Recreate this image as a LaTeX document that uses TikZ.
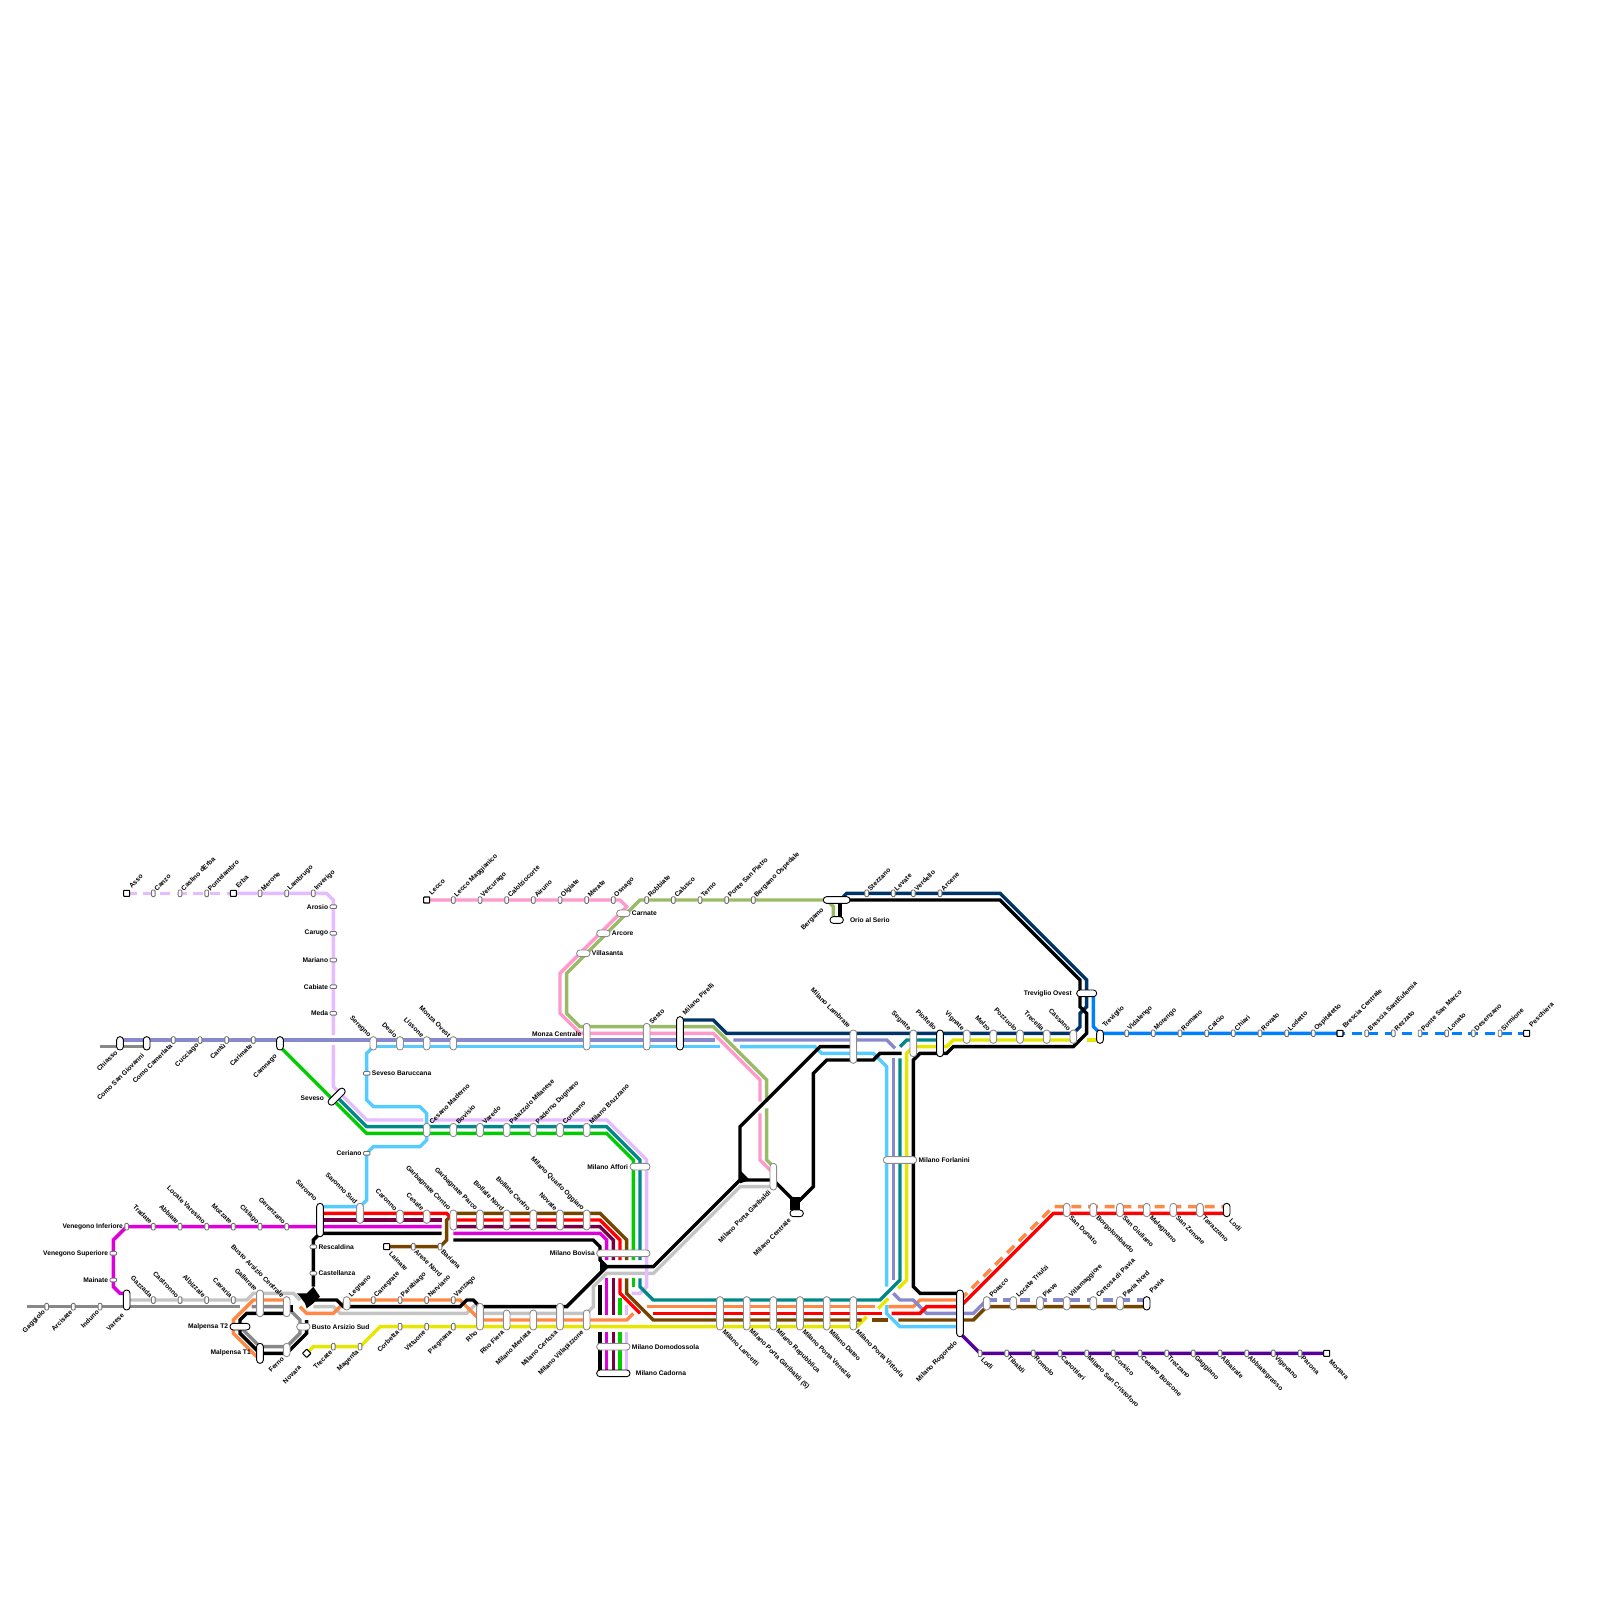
\documentclass[tikz,border=0pt]{standalone}
\usepackage{fontspec}
\setmainfont{Liberation Sans}
\usepackage{tikz}
\usepackage{xcolor}
\definecolor{cPink}{HTML}{FF99CC}
\definecolor{cOlive}{HTML}{99BB66}
\definecolor{cNavy}{HTML}{003366}
\definecolor{cViolet}{HTML}{8888CC}
\definecolor{cCyan}{HTML}{55CCFF}
\definecolor{cGray}{HTML}{888888}
\definecolor{cSilver}{HTML}{C4C4C4}
\definecolor{cGreen}{HTML}{00CC00}
\definecolor{cTeal}{HTML}{008888}
\definecolor{cLilac}{HTML}{E6BBFF}
\definecolor{cMagenta}{HTML}{DD00DD}
\definecolor{cMaroon}{HTML}{770044}
\definecolor{cOrange}{HTML}{FF8844}
\definecolor{cBrown}{HTML}{774400}
\definecolor{cYellow}{HTML}{E6E600}
\definecolor{cBlue}{HTML}{0080FF}
\definecolor{cDeep}{HTML}{550099}
\pgfdeclarelayer{tracks}
\pgfsetlayers{tracks,main}
\tikzset{
  stn/.style={draw=black!55,line width=.9pt,fill=white,rounded corners=1pt,inner sep=0pt,minimum width=3.6pt,minimum height=6.6pt},
  stnh/.style={stn,minimum width=6.6pt,minimum height=3.6pt},
  pill/.style={draw=black!45,line width=.9pt,fill=white,rounded corners=3.2pt,inner sep=0pt,minimum width=6.67pt,minimum height=#1*6.6667pt},
  hpill/.style={draw=black!45,line width=.9pt,fill=white,rounded corners=3.2pt,inner sep=0pt,minimum height=6.67pt,minimum width=#1*6.6667pt},
  term/.style={draw=black,line width=1.1pt,fill=white,rounded corners=.6pt,inner sep=0pt,minimum size=6pt},
  lbl/.style={font=\bfseries\fontsize{6.67}{7}\selectfont,inner sep=0pt,outer sep=0pt,text=black},
  lblur/.style={lbl,rotate=45,anchor=west},
  lblul/.style={lbl,rotate=-45,anchor=east},
  lbldl/.style={lbl,rotate=45,anchor=east,xshift=-.7pt,yshift=-.7pt},
  lbldr/.style={lbl,rotate=-45,anchor=west},
  lbll/.style={lbl,anchor=east,xshift=-1.5pt},
  lblr/.style={lbl,anchor=west,xshift=1.5pt},
  ln/.style={line width=3.4pt},
  lnd/.style={line width=3.4pt,dash pattern=on 10pt off 6.67pt}
}
\begin{document}
\begin{tikzpicture}[x=6.6667pt,y=-6.6667pt]
\useasboundingbox (0,0) rectangle (240,240);
% Varese and Gallarate
\coordinate (grayfree) at (4,196);
\coordinate (chiassofree) at (15,157);
\node[stn,label={[lbldl]south west:Gaggiolo}] (gaggiolo) at (7,196) {};
\node[stn,label={[lbldl]south west:Arcisate}] (arcisate) at (11,196) {};
\node[stn,label={[lbldl]south west:Induno}] (induno) at (15,196) {};
\node[pill=3,draw=black,label={[lbldl,xshift=-2pt,yshift=-2pt]south west:Varese}] (varese) at (19,195) {};
\node[stn,label={[lblul]north west:Gazzada}] (gazzada) at (23,195) {};
\node[stn,label={[lblul]north west:Castronno}] (castronno) at (27,195) {};
\node[stn,label={[lblul]north west:Albizzate}] (albizzate) at (31,195) {};
\node[stn,label={[lblul]north west:Cavaria}] (cavaria) at (35,195) {};
\node[pill=4,label={[lblul]north west:Gallarate}] (gallarate) at (39,195.5) {};
\node[pill=3,label={[lblul]north west:Busto Arsizio Centrale}] (bustoc) at (43,196) {};
\node[hpill=3,draw=black,label={[lbll]west:Malpensa T2}] (maltwo) at (36,199) {};
\node[pill=3,draw=black,label={[lbll,xshift=-4pt,yshift=.5pt]west:Malpensa T1}] (malone) at (39,203) {};
\node[pill=2,label={[lbldl]south west:Ferno}] (ferno) at (43,202.5) {};
\node[hpill=2,label={[lblr]east:Busto Arsizio Sud}] (bustos) at (45.5,199) {};
\node[term,rotate=45] (novara) at (46,203) {};
\node[lbl,rotate=45,anchor=east] (novaralbl) at (45,205) {Novara};
\node[stn,label={[lbldl]south west:Trecate}] (trecate) at (50,202) {};
\node[stn,label={[lbldl]south west:Magenta}] (magenta) at (54,202) {};
\node[stn,label={[lbldl]south west:Corbetta}] (corbetta) at (60,199) {};
\node[stn,label={[lbldl]south west:Vittuone}] (vittuone) at (64,199) {};
\node[stn,label={[lbldl]south west:Pregnana}] (pregnana) at (68,199) {};
% Saronno branch
\node[stn,label={[lbll]west:Venegono Inferiore}] (veninf) at (19,184) {};
\node[stnh,label={[lbll]west:Venegono Superiore}] (vensup) at (17,188) {};
\node[stnh,label={[lbll]west:Mainate}] (mainate) at (17,192) {};
\node[stn,label={[lblul]north west:Tradate}] (tradate) at (23,184) {};
\node[stn,label={[lblul]north west:Abbiate}] (abbiate) at (27,184) {};
\node[stn,label={[lblul]north west:Locate Varesino}] (locatev) at (31,184) {};
\node[stn,label={[lblul]north west:Mozzate}] (mozzate) at (35,184) {};
\node[stn,label={[lblul]north west:Cislago}] (cislago) at (39,184) {};
\node[stn,label={[lblul]north west:Gerenzano}] (gerenzano) at (43,184) {};
\node[pill=5,draw=black,label={[lblul,xshift=-2pt,yshift=2pt]north west:Saronno}] (saronno) at (48,183) {};
\node[pill=3,label={[lblul]north west:Saronno Sud}] (saronnos) at (54,182) {};
\node[pill=2,label={[lblul]north west:Caronno}] (caronno) at (60,182.5) {};
\node[pill=2,label={[lblul]north west:Cesate}] (cesate) at (64,182.5) {};
\node[pill=3,label={[lblul]north west:Garbagnate Centro}] (garbc) at (68,183) {};
\node[pill=3,label={[lblul]north west:Garbagnate Parco}] (garbp) at (72,183) {};
\node[pill=3,label={[lblul]north west:Bollate Nord}] (bollaten) at (76,183) {};
\node[pill=3,label={[lblul]north west:Bollate Centro}] (bollatec) at (80,183) {};
\node[pill=3,label={[lblul]north west:Novate}] (novate) at (84,183) {};
\node[pill=3,label={[lblul]north west:Milano Quarto Oggiaro}] (quarto) at (88,183) {};
\node[stnh,label={[lblr]east:Rescaldina}] (rescaldina) at (47,187) {};
\node[stnh,label={[lblr]east:Castellanza}] (castellanza) at (47,191) {};
\node[term,label={[lbldr,xshift=2pt,yshift=-2pt]south east:Lainate}] (lainate) at (58,187) {};
\node[stn,label={[lbldr]south east:Arese Nord}] (arese) at (62,187) {};
\node[stn,label={[lbldr]south east:Bariana}] (bariana) at (66,187) {};
\node[pill=2,label={[lblur]north east:Legnano}] (legnano) at (52,195.5) {};
\node[stn,label={[lblur]north east:Canegrate}] (canegrate) at (56,195) {};
\node[stn,label={[lblur]north east:Parabiago}] (parabiago) at (60,195) {};
\node[stn,label={[lblur]north east:Nerviano}] (nerviano) at (64,195) {};
\node[stn,label={[lblur]north east:Vanzago}] (vanzago) at (68,195) {};
\node[pill=4,label={[lbldl]south west:Rho}] (rho) at (72,197.5) {};
\node[pill=3,label={[lbldl]south west:Rho Fiera}] (rhofiera) at (76,198) {};
\node[pill=3,label={[lbldl]south west:Milano Merlata}] (merlata) at (80,198) {};
\node[pill=4,label={[lbldl]south west:Milano Certosa}] (certosa) at (84,197.5) {};
\node[pill=3,label={[lbldl]south west:Milano Villapizzone}] (villapizzone) at (88,198) {};
\node[hpill=8,label={[lbll]west:Milano Bovisa}] (bovisa) at (93.5,188) {};
\node[hpill=3,label={[lbll]west:Milano Affori}] (affori) at (96,175) {};
\node[hpill=5,label={[lblr]east:Milano Domodossola}] (domodossola) at (92,202) {};
\node[hpill=5,draw=black,label={[lblr,xshift=4pt]east:Milano Cadorna}] (cadorna) at (92,206) {};
% Asso and Como
\node[term,label={[lblur,xshift=2pt,yshift=2pt]north east:Asso}] (asso) at (19,134) {};
\node[stn,label={[lblur]north east:Canzo}] (canzo) at (23,134) {};
\node[stn,label={[lblur]north east:Caslino dErba}] (caslino) at (27,134) {};
\node[stn,label={[lblur]north east:Pontelambro}] (pontelambro) at (31,134) {};
\node[term,label={[lblur,xshift=2pt,yshift=2pt]north east:Erba}] (erba) at (35,134) {};
\node[stn,label={[lblur]north east:Merone}] (merone) at (39,134) {};
\node[stn,label={[lblur]north east:Lambrugo}] (lambrugo) at (43,134) {};
\node[stn,label={[lblur]north east:Inverigo}] (inverigo) at (47,134) {};
\node[stnh,label={[lbll]west:Arosio}] (arosio) at (50,136) {};
\node[stnh,label={[lbll]west:Carugo}] (carugo) at (50,140) {};
\node[stnh,label={[lbll]west:Mariano}] (mariano) at (50,144) {};
\node[stnh,label={[lbll]west:Cabiate}] (cabiate) at (50,148) {};
\node[stnh,label={[lbll]west:Meda}] (meda) at (50,152) {};
\node[pill=2,draw=black,label={[lbldl]south west:Chiasso}] (chiasso) at (18,156.5) {};
\node[pill=2,draw=black,label={[lbldl,xshift=-2pt,yshift=-2pt]south west:Como San Giovanni}] (comosg) at (22,156.5) {};
\node[stn,label={[lbldl]south west:Como Camerlata}] (comoc) at (26,156) {};
\node[stn,label={[lbldl]south west:Cucciago}] (cucciago) at (30,156) {};
\node[stn,label={[lbldl]south west:Cantù}] (cantu) at (34,156) {};
\node[stn,label={[lbldl]south west:Carimate}] (carimate) at (38,156) {};
\node[pill=2,draw=black,label={[lbldl,xshift=-3pt,yshift=-3pt]south west:Camnago}] (camnago) at (42,156.5) {};
\node[pill=2,label={[lblul]north west:Seregno}] (seregno) at (56,156.5) {};
\node[pill=2,label={[lblul]north west:Desio}] (desio) at (60,156.5) {};
\node[pill=2,label={[lblul]north west:Lissone}] (lissone) at (64,156.5) {};
\node[pill=2,label={[lblul]north west:Monza Ovest}] (monzao) at (68,156.5) {};
\node[stnh,label={[lblr]east:Seveso Baruccana}] (baruccana) at (55,161) {};
\node[stnh,label={[lbll]west:Ceriano}] (ceriano) at (55,173) {};
\node[pill=3.2,draw=black,rotate=-45] (seveso) at (50.5,164.5) {};
\node[lbl,anchor=east] (sevesolbl) at (48.6,164.8) {Seveso};
\node[pill=2,label={[lblur]north east:Cesano Maderno}] (cesano) at (64,169.5) {};
\node[pill=2,label={[lblur]north east:Bovisio}] (bovisio) at (68,169.5) {};
\node[pill=2,label={[lblur]north east:Varedo}] (varedo) at (72,169.5) {};
\node[pill=2,label={[lblur]north east:Palazzolo Milanese}] (palazzolo) at (76,169.5) {};
\node[pill=2,label={[lblur]north east:Paderno Dugnano}] (paderno) at (80,169.5) {};
\node[pill=2,label={[lblur]north east:Cormano}] (cormano) at (84,169.5) {};
\node[pill=2,label={[lblur]north east:Milano Bruzzano}] (bruzzano) at (88,169.5) {};
% Lecco and Bergamo
\node[term,label={[lblur,xshift=2pt,yshift=2pt]north east:Lecco}] (lecco) at (64,135) {};
\node[stn,label={[lblur]north east:Lecco Maggianico}] (leccom) at (68,135) {};
\node[stn,label={[lblur]north east:Vercurago}] (vercurago) at (72,135) {};
\node[stn,label={[lblur]north east:Calolziocorte}] (calolzio) at (76,135) {};
\node[stn,label={[lblur]north east:Airuno}] (airuno) at (80,135) {};
\node[stn,label={[lblur]north east:Olgiate}] (olgiate) at (84,135) {};
\node[stn,label={[lblur]north east:Merate}] (merate) at (88,135) {};
\node[stn,label={[lblur]north east:Osnago}] (osnago) at (92,135) {};
\node[hpill=2,label={[lblr]east:Carnate}] (carnate) at (93.5,137) {};
\node[hpill=2,label={[lblr]east:Arcore}] (arcore) at (90.5,140) {};
\node[hpill=2,label={[lblr]east:Villasanta}] (villasanta) at (87.5,143) {};
\node[stn,label={[lblur]north east:Robbiate}] (robbiate) at (97,135) {};
\node[stn,label={[lblur]north east:Calusco}] (calusco) at (101,135) {};
\node[stn,label={[lblur]north east:Terno}] (terno) at (105,135) {};
\node[stn,label={[lblur]north east:Ponte San Pietro}] (pontesp) at (109,135) {};
\node[stn,label={[lblur]north east:Bergamo Ospedale}] (bergamoo) at (113,135) {};
\node[hpill=4,draw=black,label={[lbldl,xshift=-3pt,yshift=-3pt]south west:Bergamo}] (bergamo) at (125.5,135) {};
\node[hpill=2,draw=black] (orio) at (125.5,138) {};
\node[lbl,anchor=west] (oriolbl) at (127.5,138) {Orio al Serio};
\node[stn,label={[lblur]north east:Stezzano}] (stezzano) at (130,134) {};
\node[stn,label={[lblur]north east:Levate}] (levate) at (134,134) {};
\node[stn,label={[lblur]north east:Verdello}] (verdello) at (137,134) {};
\node[stn,label={[lblur]north east:Arcene}] (arcene) at (141,134) {};
% Monza to Treviglio
\node[pill=4,label={[lbll,yshift=3pt]west:Monza Centrale}] (monzac) at (88,155.5) {};
\node[pill=4,label={[lblur]north east:Sesto}] (sesto) at (97,155.5) {};
\node[pill=5,draw=black,label={[lblur,xshift=2pt,yshift=2pt]north east:Milano Pirelli}] (pirelli) at (102,155) {};
\node[pill=5,label={[lblul,xshift=-2pt,yshift=2pt]north west:Milano Lambrate}] (lambrate) at (128,157) {};
\node[pill=4,label={[lblul]north west:Segrate}] (segrate) at (137,156.5) {};
\node[pill=4,draw=black,label={[lblul,xshift=-1pt]north west:Pioltello}] (pioltello) at (141,156.5) {};
\node[pill=2,label={[lblul]north west:Vignate}] (vignate) at (145,155.5) {};
\node[pill=2,label={[lblul]north west:Melzo}] (melzo) at (149,155.5) {};
\node[pill=2,label={[lblul]north west:Pozzuolo}] (pozzuolo) at (153,155.5) {};
\node[pill=2,label={[lblul]north west:Trecella}] (trecella) at (157,155.5) {};
\node[pill=2,label={[lblul]north west:Cassano}] (cassano) at (161,155.5) {};
\node[pill=2,draw=black,label={[lblur,xshift=2pt,yshift=2pt]north east:Treviglio}] (treviglio) at (165,155.5) {};
\node[hpill=3,draw=black,label={[lbll,xshift=-3pt]west:Treviglio Ovest}] (trevo) at (163,149) {};
\node[stn,label={[lblur]north east:Vidalengo}] (vidalengo) at (169,155) {};
\node[stn,label={[lblur]north east:Morengo}] (morengo) at (173,155) {};
\node[stn,label={[lblur]north east:Romano}] (romano) at (177,155) {};
\node[stn,label={[lblur]north east:Calcio}] (calcio) at (181,155) {};
\node[stn,label={[lblur]north east:Chiari}] (chiari) at (185,155) {};
\node[stn,label={[lblur]north east:Rovato}] (rovato) at (189,155) {};
\node[stn,label={[lblur]north east:Lodetto}] (lodetto) at (193,155) {};
\node[stn,label={[lblur]north east:Ospitaletto}] (ospitaletto) at (197,155) {};
\node[term,label={[lblur,xshift=2pt,yshift=2pt]north east:Brescia Centrale}] (bresciac) at (201,155) {};
\node[stn,label={[lblur]north east:Brescia SantEufemia}] (bresciae) at (205,155) {};
\node[stn,label={[lblur]north east:Rezzato}] (rezzato) at (209,155) {};
\node[stn,label={[lblur]north east:Ponte San Marco}] (pontesm) at (213,155) {};
\node[stn,label={[lblur]north east:Lonato}] (lonato) at (217,155) {};
\node[stn,label={[lblur]north east:Desenzano}] (desenzano) at (221,155) {};
\node[stn,label={[lblur]north east:Sirmione}] (sirmione) at (225,155) {};
\node[term,label={[lblur,xshift=3pt,yshift=3pt]north east:Peschiera}] (peschiera) at (229,155) {};
% Passante and Rogoredo
\node[pill=4,label={[lbldl]south west:Milano Porta Garibaldi}] (garibaldi) at (116,176.5) {};
\node[hpill=2,draw=black,label={[lbldl,xshift=-1pt,yshift=-1pt]south west:Milano Centrale}] (centrale) at (119.5,182) {};
\node[hpill=5,label={[lblr]east:Milano Forlanini}] (forlanini) at (135,174) {};
\node[pill=5,label={[lbldr]south east:Milano Lancetti}] (lancetti) at (108,197) {};
\node[pill=5,label={[lbldr]south east:Milano Porta Garibaldi (S)}] (garibaldis) at (112,197) {};
\node[pill=5,label={[lbldr]south east:Milano Repubblica}] (repubblica) at (116,197) {};
\node[pill=5,label={[lbldr]south east:Milano Porta Venezia}] (venezia) at (120,197) {};
\node[pill=5,label={[lbldr]south east:Milano Dateo}] (dateo) at (124,197) {};
\node[pill=5,label={[lbldr]south east:Milano Porta Vittoria}] (vittoria) at (128,197) {};
\node[pill=7,draw=black,label={[lbldl,xshift=-3pt,yshift=-3pt]south west:Milano Rogoredo}] (rogoredo) at (144,197) {};
\node[pill=2,label={[lbldr]south east:San Donato}] (sandonato) at (160,181.5) {};
\node[pill=2,label={[lbldr]south east:Borgolombardo}] (borgo) at (164,181.5) {};
\node[pill=2,label={[lbldr]south east:San Giuliano}] (sangiuliano) at (168,181.5) {};
\node[pill=2,label={[lbldr]south east:Melegnano}] (melegnano) at (172,181.5) {};
\node[pill=2,label={[lbldr]south east:San Zenone}] (sanzenone) at (176,181.5) {};
\node[pill=2,label={[lbldr]south east:Tavazzano}] (tavazzano) at (180,181.5) {};
\node[pill=2,draw=black,label={[lbldr,xshift=2pt,yshift=-2pt]south east:Lodi}] (lodi) at (184,181.5) {};
\node[pill=2,label={[lblur]north east:Poasco}] (poasco) at (148,195.5) {};
\node[pill=2,label={[lblur]north east:Locate Triulzi}] (locatet) at (152,195.5) {};
\node[pill=2,label={[lblur]north east:Pieve}] (pieve) at (156,195.5) {};
\node[pill=2,label={[lblur]north east:Villamaggiore}] (villamaggiore) at (160,195.5) {};
\node[pill=2,label={[lblur]north east:Certosa di Pavia}] (certosap) at (164,195.5) {};
\node[pill=2,label={[lblur]north east:Pavia Nord}] (pavian) at (168,195.5) {};
\node[pill=2,draw=black,label={[lblur,xshift=3pt,yshift=3pt]north east:Pavia}] (pavia) at (172,195.5) {};
\node[stn,label={[lbldr,xshift=1pt,yshift=-1pt]south east:Lodi}] (lodib) at (147,203) {};
\node[stn,label={[lbldr]south east:Tibaldi}] (tibaldi) at (151,203) {};
\node[stn,label={[lbldr]south east:Romolo}] (romolo) at (155,203) {};
\node[stn,label={[lbldr]south east:Canottieri}] (canottieri) at (159,203) {};
\node[stn,label={[lbldr]south east:Milano San Cristoforo}] (cristoforo) at (163,203) {};
\node[stn,label={[lbldr]south east:Corsico}] (corsico) at (167,203) {};
\node[stn,label={[lbldr]south east:Cesano Boscone}] (boscone) at (171,203) {};
\node[stn,label={[lbldr]south east:Trezzano}] (trezzano) at (175,203) {};
\node[stn,label={[lbldr]south east:Gaggiano}] (gaggiano) at (179,203) {};
\node[stn,label={[lbldr]south east:Albairate}] (albairate) at (183,203) {};
\node[stn,label={[lbldr]south east:Abbiategrasso}] (abbiategrasso) at (187,203) {};
\node[stn,label={[lbldr]south east:Vigevano}] (vigevano) at (191,203) {};
\node[stn,label={[lbldr]south east:Parona}] (parona) at (195,203) {};
\node[term,label={[lbldr,xshift=3pt,yshift=-3pt]south east:Mortara}] (mortara) at (199,203) {};
\begin{pgfonlayer}{tracks}
\draw[ln,cGray] (grayfree) -- (36,196);
\draw[ln,cGray] (chiassofree) -- (22,157);
\draw[ln,cGray] (maltwo.center) -- (39,202) -- (43,202) -- (45,200) -- (45,198) -- (43,196) -- (37.75,196);
\draw[ln,cSilver] (19,195) -- (37,195) -- (38,194) -- (44,194) -- (45,195);
\draw[ln,cSilver] (47,196) -- (50,196) -- (51,197) -- (70,197) -- (71.5,195.5);
\draw[ln,cSilver] (72,197) -- (88,197) -- (89,196) -- (89,193) -- (91,191) -- (98,191) -- (111,178) -- (116,178);
\draw[ln,cOrange] (42.5,195) -- (38,195) -- (35,198) -- (35,200) -- (38.5,203.5);
\draw[ln,cOrange] (45,196) -- (46,197) -- (50,197) -- (52,195) -- (69,195) -- (72,198) -- (94,198) -- (95,197);
\draw[ln,cOrange] (97,196) -- (131.25,196);
\draw[ln,cOrange] (133.25,196) -- (137,196) -- (138,195) -- (144,195);
\draw[lnd,cOrange] (144,195) -- (158,181) -- (184,181);
\draw[ln,cBlue] (trevo.center) ++(1,0) -- (164,154) -- (165,155) -- (bresciac.center);
\draw[lnd,dash phase=5pt,cBlue] (bresciac.center) -- (peschiera.center);
\draw[ln,cPink] (lecco.center) -- (93,135) -- (94,136) -- (84,146) -- (84,152) -- (87,155) -- (107,155) -- (114,162) -- (114,165.25);
\draw[ln,cPink] (114,167) -- (114,174) -- (116,176);
\draw[ln,cOlive] (bergamo.center) -- (96,135) -- (85,146) -- (85,152) -- (87,154) -- (107,154) -- (115,162) -- (115,165.25);
\draw[ln,cOlive] (115,166.25) -- (115,174) -- (116,175);
\draw[ln,cOlive] (124,135) -- (125,136) -- (125,138);
\draw[ln,cNavy] (102,153) -- (107,153) -- (109,155) -- (161,155) -- (162,154) -- (162,152) -- (163,151) -- (163,147) -- (150,134) -- (127,134) -- (126.5,134.5);
\draw[lnd,cLilac] (asso.center) -- (erba.center);
\draw[ln,cLilac] (erba.center) -- (49,134) -- (50,135) -- (50,155.25);
\draw[ln,cLilac] (50,156.75) -- (50,163) -- (55,168) -- (63.5,168);
\draw[ln,cLilac] (64.5,168) -- (91,168) -- (97,174) -- (97,193) -- (96,194) -- (94.75,194);
\draw[ln,cLilac] (94,195.75) -- (94,197.25);
\draw[ln,cLilac] (94,199.75) -- (94,206);
\draw[ln,cViolet] (18,156) -- (107.25,156);
\draw[ln,cViolet] (110,156) -- (133,156) -- (134.25,157.25);
\draw[ln,cViolet] (134,158.75) -- (134,192);
\draw[ln,cViolet] (134,194) -- (135,195) -- (137,195) -- (139,197) -- (146,197) -- (148,195);
\draw[lnd,cViolet] (148,195) -- (pavia.center |- 148,195);
\draw[ln,cCyan] (56,157) -- (108,157);
\draw[ln,cCyan] (111,157) -- (122.25,157) -- (123.25,158) -- (131,158) -- (133,160) -- (133,193);
\draw[ln,cCyan] (133,195.75) -- (133,197) -- (135,199) -- (144,199);
\draw[ln,cCyan] (56,157) -- (55,158) -- (55,165) -- (56,166) -- (63,166) -- (64,167) -- (64,169);
\draw[ln,cCyan] (48,181) -- (54,181) -- (55,180) -- (55,173) -- (56,172) -- (63,172) -- (64,171) -- (64,170);
\draw[ln,cGreen] (camnago.center) ++(0,.5) -- (55,170) -- (91,170) -- (95,174) -- (95,189);
\draw[ln,cGreen] (95,191.75) -- (95,193);
\draw[ln,cGreen] (93,194.75) -- (93,197.25);
\draw[ln,cGreen] (93,199.75) -- (93,206);
\draw[ln,cTeal] (seveso.center) -- (55,169) -- (91,169) -- (96,174) -- (96,189);
\draw[ln,cTeal] (96,191.75) -- (96,193) -- (98,195) -- (132,195) -- (135,192) -- (135,158.75);
\draw[ln,cTeal] (135,157) -- (136,156) -- (141,156);
\draw[ln,cMagenta] (19,194) -- (18,194) -- (17,193) -- (17,186) -- (19,184) -- (66.25,184);
\draw[ln,cMagenta] (68,185) -- (90,185) -- (91,186) -- (91,189);
\draw[ln,cMagenta] (91,191.75) -- (91,197.25);
\draw[ln,cMagenta] (91,199.75) -- (91,206);
\draw[ln,cMaroon] (48,183) -- (66.25,183);
\draw[ln,cMaroon] (68,184) -- (90,184) -- (92,186) -- (92,189);
\draw[ln,cMaroon] (92,191.75) -- (92,197.25);
\draw[ln,cMaroon] (92,199.75) -- (92,206);
\draw[ln,cYellow] (novara.center) -- (47,202) -- (54,202) -- (57,199) -- (128.5,199) -- (130,197.5);
\draw[ln,cYellow] (131.75,196.25) -- (133.25,194.75);
\draw[ln,cYellow] (134.75,193.25) -- (136,192) -- (136,158) -- (137,157) -- (142,157) -- (143,156) -- (161,156);
\draw[ln,cYellow] (163,156) -- (165,156);
\draw[ln,cBrown] (lainate.center) -- (66,187) -- (67,186) -- (67,183) -- (68,182) -- (90,182) -- (94,186) -- (94,189);
\draw[ln,cBrown] (94,191.75) -- (94,194) -- (98,198) -- (129.25,198);
\draw[ln,cBrown] (130.75,198) -- (133.25,198);
\draw[ln,cBrown] (134.75,198) -- (146,198) -- (148,196) -- (172,196);
\draw[ln,red] (48,182) -- (67,182) -- (68,183) -- (90,183) -- (93,186) -- (93,189);
\draw[ln,red] (93,191.75) -- (93,194) -- (96,197);
\draw[ln,red] (98,197) -- (132.25,197);
\draw[ln,red] (133.75,197) -- (138,197) -- (139,196) -- (144,196);
\draw[ln,red] (144,196) -- (158,182) -- (lodi.center |- 158,182);
\draw[ln,cDeep] (rogoredo.center) ++(0,3) -- (lodib.center) -- (mortara.center);
\draw[ln,black] (66.25,185) -- (48,185) -- (47,186) -- (47,193);
\draw[ln,black] (47,195) -- (50.5,195) -- (51.5,196) -- (69,196) -- (70,195) -- (71,195) -- (72,196) -- (85,196) -- (91,190);
\draw[ln,black] (68,186) -- (89,186) -- (90,187) -- (90,189) -- (91,190) -- (98,190) -- (111,177) -- (116,177) -- (119,180) -- (119,181);
\draw[ln,black] (111,177) -- (111,169) -- (123,157) -- (lambrate.center);
\draw[ln,black] (119,181) -- (122,178) -- (122,161) -- (124,159) -- (131,159) -- (132,158) -- (135.25,158);
\draw[ln,black] (144,194) -- (138,194) -- (137,193) -- (137,159) -- (138,158) -- (142,158) -- (143,157) -- (161,157) -- (163,155) -- (163,152) -- (162,151) -- (162,147) -- (150,135) -- (bergamo.center);
\draw[ln,black] (126,135) -- (126,138);
\draw[ln,black] (90,192.75) -- (90,197.25);
\draw[ln,black] (90,199.75) -- (90,206);
\draw[ln,black] (43,197) -- (37,197) -- (36,198) -- (36,200) -- (39,203) -- (43,203) -- (46,200) -- (46,198);
\draw[ln,black] (43.75,195.75) -- (43.75,196.75);
% junction blocks
\fill[black] (44.5,194) -- (46,194) -- (47,193) -- (48,194.5) -- (47,195.5) -- (46,196.25) -- (45.75,195.5) -- (45,194.5) -- cycle;
\fill[black] (90,188.5) -- (91,190) -- (90,191) -- cycle;
\fill[black] (111,175.5) -- (112.5,177) -- (111,177.5) -- cycle;
\fill[black] (118.5,179.5) -- (120,179.5) -- (120,181.5) -- (118.5,181.5) -- cycle;
\end{pgfonlayer}
\end{tikzpicture}
\end{document}
